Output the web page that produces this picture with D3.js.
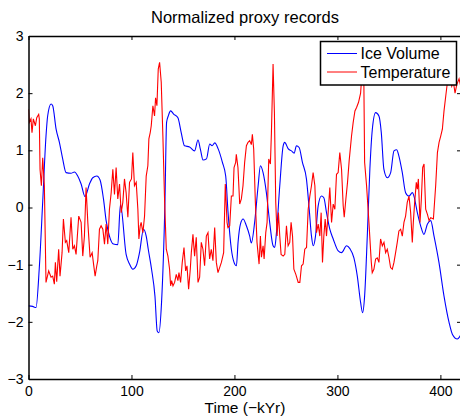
<!DOCTYPE html>
<html lang="en">
  <head>
    <meta charset="UTF-8" />
    <title>Normalized proxy records</title>
    <script src="https://cdn.jsdelivr.net/npm/d3@7"></script>
    <style>
      body { margin: 0; background: #fff; }
      text { font-family: "Liberation Sans", Arial, Helvetica, sans-serif; fill: #000; }
    </style>
  </head>
  <body>
    <div id="chart"></div>
    <script>
      // series values: [time (kyr ago), normalized value]
      const iceVolume = [
        [0,-1.72],[4,-1.73],[7.3,-1.75],[10.5,-1.05],[13.8,0.1],[17,1.25],[18.6,1.6],[21.9,1.81],[23.5,1.78],
        [26.8,1.37],[30,1.14],[33.2,0.85],[36.5,0.61],[41.3,0.6],[44.6,0.62],[47.8,0.55],[51.1,0.41],[54.9,0.19],
        [59.2,0.41],[62.4,0.52],[66.3,0.55],[69.5,0.48],[72.8,0.15],[75.4,-0.23],[78.6,-0.5],[82.5,-0.64],
        [86.7,-0.65],[89.3,0.05],[94.8,-0.82],[98.1,-0.99],[101.3,-1.08],[104.6,-1.02],[107.8,-0.79],
        [111.7,-0.38],[114.3,-0.5],[116.3,-0.73],[119.5,-1.08],[122.8,-1.55],[125,-2.16],[126.6,-2.19],
        [129.2,-1.66],[132.5,0.09],[134.1,1.49],[135.7,1.6],[138,1.69],[141.2,1.63],[145.1,1.57],[148.3,1.31],
        [151.5,1.08],[156.4,1.06],[161.3,0.99],[164.6,1.18],[166.9,1.02],[169.5,0.83],[172.8,0.85],[176,1.11],
        [178.3,1.08],[180.9,1.13],[184.1,1.03],[188.3,0.79],[191.5,0.55],[193.8,-0.09],[197,-0.73],[199.6,-0.96],
        [201.9,-1.02],[203.5,-0.61],[205.8,-0.29],[208.4,-0.2],[211.6,-0.32],[214.8,-0.5],[216.4,-0.62],
        [219.6,-0.26],[223,0.38],[225.2,0.73],[227.8,0.61],[231,0.26],[234.2,-0.26],[237.5,-0.67],[239.1,-0.7],
        [240.8,-0.44],[244,0.38],[247.3,1.08],[248.8,1.14],[252.1,1.03],[255.4,0.99],[258,0.95],[260.2,1.08],
        [262.8,1.05],[266,0.79],[269.9,0.5],[272.6,-0.03],[274.8,-0.5],[276.5,-0.67],[278.7,-0.5],[281.3,0.03],
        [284.5,0.2],[286.8,0.17],[289.4,-0.09],[292.6,-0.38],[295.9,-0.55],[300.8,-0.76],[304,-0.79],
        [308.9,-0.67],[312.1,-0.72],[316,-0.88],[319.3,-1.2],[322.5,-1.66],[324.4,-1.84],[326.4,-1.55],
        [329,-0.5],[331.5,0.67],[333.9,1.37],[337.1,1.66],[340.3,1.6],[342.6,1.31],[345.1,0.67],[348.4,0.52],
        [351.7,0.61],[354.9,0.99],[357.5,1.01],[359.7,0.9],[363,0.61],[366.2,0.26],[369.5,0.2],[372.8,0.26],
        [374.3,0.2],[377.6,-0.09],[380.8,-0.32],[384,-0.47],[387.4,-0.29],[390.6,-0.23],[393.8,-0.5],
        [398.6,-0.96],[403.5,-1.55],[408.4,-2.01],[411.7,-2.22],[416.5,-2.3],[420,-2.22]
      ];

      const temperature = [
        [0,1.72],[0.8,1.49],[2.4,1.55],[3.4,1.31],[4.7,1.55],[6.7,1.43],[8,1.57],[9.9,1.63],[10.5,1.55],
        [11.2,0.67],[12.5,0.38],[13.8,0.87],[15.4,0.38],[17,-1.31],[19.6,-1.11],[21.9,-1.22],[23.5,-1.2],
        [25.1,-1.34],[26.1,-0.96],[27.4,-1.3],[29.3,-0.73],[30.6,-1.2],[32.6,-0.79],[33.9,-0.2],[35.8,-0.61],
        [37.1,-0.58],[39.1,-0.79],[41.3,-0.17],[43,-0.73],[44.6,-0.67],[46.2,-0.82],[48.8,-0.15],[51.1,-0.26],
        [52.7,-0.85],[54.3,-0.5],[55.9,0.35],[57.6,-0.26],[59.8,-0.87],[61.8,-0.79],[63.4,-1.02],[64.7,-1.2],
        [66.3,-1.02],[67.3,-0.93],[68.9,-0.38],[70.5,-0.32],[72.2,-0.38],[73.8,-0.64],[75.4,-0.29],[77,-0.64],
        [78.6,-0.03],[80.3,0.26],[81.9,0.67],[83.5,0.23],[85.1,0.7],[86.7,0.15],[88.4,0.41],[90,-0.09],
        [91.6,0.09],[93.2,0.5],[94.8,0.26],[96.5,-0.17],[98.1,0.44],[100,0.5],[101.3,0.96],[102.9,0.38],
        [104.6,0.44],[106.2,-0.03],[107.2,-0.55],[108.5,-0.32],[109.4,-0.26],[111.1,-0.44],[112.7,-0.15],
        [114.3,0.55],[115.9,0.73],[116.9,1.2],[118.2,1.31],[119.2,1.43],[120.8,1.78],[122.4,1.6],[123.4,1.92],
        [124.7,1.78],[126,2.42],[127.3,2.54],[128.9,2.19],[130.5,1.25],[132.2,0.09],[133.8,-0.73],[135.4,-0.85],
        [137,-1.08],[138,-1.37],[139,-1.28],[140.3,-1.37],[141.9,-1.31],[143.5,-1.17],[145.1,-1.28],
        [146.1,-1.14],[147.7,-1.31],[149.3,-0.96],[151,-0.7],[152.6,-1.11],[153.9,-1.02],[155.5,-1.43],
        [157.1,-1.08],[158.1,-0.79],[159.7,-0.47],[161.3,-0.85],[162.9,-0.52],[164.6,-1.31],[166.2,-1.22],
        [167.8,-0.61],[169.4,-0.73],[171,-1.02],[172.7,-0.5],[174.3,-0.44],[175.9,-0.9],[177.5,-0.73],
        [179.1,-0.93],[180.8,-0.35],[182.4,-0.96],[184,-1.14],[187.3,-0.96],[189.5,-0.79],[191.1,0.41],
        [192.8,-0.26],[193.7,-0.35],[195.4,-0.32],[197,0.2],[198.6,0.2],[199.6,0.7],[201.2,0.79],[201.8,0.93],
        [203.4,0.7],[205.1,0.06],[206.7,0.15],[208.3,0.38],[209.9,0.79],[211.6,1.08],[213.2,1.14],[214.8,1.17],
        [216.4,1.1],[217.4,1.28],[218.7,1.02],[220.3,0.09],[221.9,-0.61],[223.9,-0.99],[225.2,-0.5],
        [226.2,-0.87],[227.8,-0.67],[228.8,-0.9],[230.4,-0.44],[231.7,-0.26],[233.3,0.85],[234.9,0.76],
        [235.9,1.31],[237.5,2.51],[238.8,1.66],[240.1,0.09],[241.4,-0.5],[242.7,-0.09],[244,-0.5],[245.3,-0.82],
        [247.3,-0.85],[248.9,-0.82],[250.5,-0.32],[252.1,-0.67],[253.7,-0.61],[255,-0.26],[256.4,-0.5],
        [257.7,-1.08],[259.6,-1.17],[261.9,-1.31],[263.5,-1.31],[265.1,-1.02],[266.7,-0.99],[268.3,-0.73],
        [270,-0.7],[271.6,-0.03],[273.2,0.2],[274.8,0.38],[276.4,0.61],[278.1,0.38],[279.7,-0.44],[281.3,-0.29],
        [282.9,-0.5],[284.2,-0.09],[285.5,-0.96],[286.8,-0.5],[288.1,-0.2],[289.4,-0.5],[291,-0.09],[292.6,0.35],
        [294.3,-0.26],[295.9,0.06],[297.5,-0.03],[299.1,0.58],[300.7,0.61],[302.3,0.96],[304,0.67],[305.6,0.03],
        [306.6,-0.17],[308.2,0.15],[309.8,0.44],[311.4,0.82],[313.7,1.25],[315.3,1.49],[317,1.69],[318.6,1.75],
        [320.5,1.84],[322.5,2.0],[324.1,2.42],[325.1,2.6],[325.7,2.13],[326.4,0.79],[328.3,0.38],[330.6,-0.26],
        [332.9,-0.96],[333.8,-1.14],[335.4,-1.08],[337.1,-0.9],[338.7,-0.88],[340.3,-0.96],[341.9,-0.55],
        [343.6,-0.67],[345.2,-0.61],[346.8,-0.79],[348.4,-0.73],[350,-0.87],[351.6,-1.05],[353.3,-1.08],
        [354.9,-0.96],[356.5,-0.79],[358.1,-0.61],[359.7,-0.41],[361.4,-0.38],[363,-0.5],[364.6,-0.26],
        [366.2,-0.15],[367.8,0.09],[369.5,0.2],[371.1,-0.09],[372.7,-0.61],[373.7,-0.26],[375,0.09],[376.6,0.44],
        [377.6,0.32],[378.6,0.5],[380.2,-0.26],[381.5,0.15],[382.8,0.7],[384.1,0.76],[385.7,-0.03],[387.4,-0.12],
        [389,-0.23],[390.6,-0.18],[393.2,-0.2],[395.4,0.38],[397.1,0.96],[398.7,1.14],[400.3,1.25],[401.9,1.37],
        [403.5,1.69],[405.2,1.95],[406.8,2.19],[409,2.3],[411,2.12],[412.6,2.2],[414.2,2.0],[415.9,2.15],
        [418.1,2.25],[420,2.1]
      ];

      const xTicks = [0, 100, 200, 300, 400];
      const yTicks = [-3, -2, -1, 0, 1, 2, 3];
      const seriesNames = ["Ice Volume", "Temperature"];
      const seriesColors = ["#0000ff", "#ff0000"];

      const width = 460,
        height = 417;
      const plot = { left: 28.5, right: 461, top: 36, bottom: 379 };

      const svg = d3
        .select("#chart")
        .append("svg")
        .attr("width", width)
        .attr("height", height);

      const x = d3.scaleLinear().domain([0, 420]).range([plot.left, plot.right]);
      const y = d3.scaleLinear().domain([-3, 3]).range([plot.bottom, plot.top]);

      svg
        .append("clipPath")
        .attr("id", "clip")
        .append("rect")
        .attr("x", plot.left)
        .attr("y", plot.top)
        .attr("width", plot.right - plot.left)
        .attr("height", plot.bottom - plot.top);

      // lines: ice volume first, temperature drawn over it
      const iceLine = d3
        .line()
        .x((d) => x(d[0]))
        .y((d) => y(d[1]))
        .curve(d3.curveMonotoneX);
      const tempLine = d3
        .line()
        .x((d) => x(d[0]))
        .y((d) => y(d[1]));

      const lines = svg.append("g").attr("clip-path", "url(#clip)");
      lines
        .append("path")
        .datum(iceVolume)
        .attr("fill", "none")
        .attr("stroke", seriesColors[0])
        .attr("stroke-width", 1.1)
        .attr("d", iceLine);
      lines
        .append("path")
        .datum(temperature)
        .attr("fill", "none")
        .attr("stroke", seriesColors[1])
        .attr("stroke-width", 1.1)
        .attr("d", tempLine);

      // axes, ticks pointing inwards on all four sides
      const fmt = d3.format("d");
      const styleAxis = (g) => {
        g.select(".domain").attr("stroke-width", 1.5);
        g.selectAll(".tick line").attr("stroke-width", 1);
        g.selectAll(".tick text")
          .attr("font-size", 14)
          .attr("font-family", '"Liberation Sans", Arial, sans-serif');
      };

      svg
        .append("g")
        .attr("transform", `translate(0,${plot.bottom})`)
        .call(d3.axisBottom(x).tickValues(xTicks).tickFormat(fmt).tickSizeInner(-4).tickSizeOuter(0).tickPadding(7))
        .call(styleAxis);
      svg
        .append("g")
        .attr("transform", `translate(0,${plot.top})`)
        .call(d3.axisTop(x).tickValues(xTicks).tickFormat("").tickSizeInner(-4).tickSizeOuter(0))
        .call(styleAxis);
      svg
        .append("g")
        .attr("transform", `translate(${plot.left},0)`)
        .call(d3.axisLeft(y).tickValues(yTicks).tickFormat(fmt).tickSizeInner(-4).tickSizeOuter(0).tickPadding(5))
        .call(styleAxis);
      svg
        .append("g")
        .attr("transform", `translate(${plot.right},0)`)
        .call(d3.axisRight(y).tickValues(yTicks).tickFormat("").tickSizeInner(-4).tickSizeOuter(0))
        .call(styleAxis);

      // title and axis label
      svg
        .append("text")
        .attr("x", 245)
        .attr("y", 23)
        .attr("text-anchor", "middle")
        .attr("font-size", 16.5)
        .text("Normalized proxy records");

      svg
        .append("text")
        .attr("x", 245)
        .attr("y", 413)
        .attr("text-anchor", "middle")
        .attr("font-size", 15.5)
        .text("Time (\u2212kYr)");

      // legend
      const legend = svg.append("g").attr("transform", "translate(320.5,41.5)");
      legend
        .append("rect")
        .attr("width", 136)
        .attr("height", 43.5)
        .attr("fill", "#fff")
        .attr("stroke", "#000")
        .attr("stroke-width", 1.5);

      seriesNames.forEach((name, i) => {
        const row = legend.append("g").attr("transform", `translate(0,${12 + i * 18.5})`);
        row
          .append("line")
          .attr("x1", 6.5)
          .attr("x2", 36.5)
          .attr("stroke", seriesColors[i])
          .attr("stroke-width", 1);
        row
          .append("text")
          .attr("x", 40)
          .attr("y", 5.5)
          .attr("font-size", 16)
          .text(name);
      });
    </script>
  </body>
</html>
